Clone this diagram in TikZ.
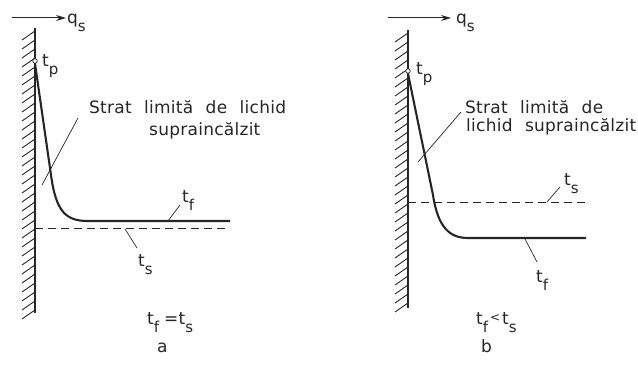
\documentclass[tikz,border=0pt]{standalone}
\usepackage{fontspec}
\setmainfont{DejaVu Sans}[WordSpace=2.2,LetterSpace=1.5]
\usetikzlibrary{arrows.meta}
\newcommand{\lowsub}[1]{\raisebox{-0.45em}{\fontsize{15}{15}\selectfont #1}}
\begin{document}
\begin{tikzpicture}[x=1pt,y=-1pt,
  ink/.style={draw=black!85},
  wallline/.style={ink,line width=1.5pt},
  hatchline/.style={ink,line width=0.9pt},
  profile/.style={ink,line width=2.1pt,line join=round},
  satline/.style={ink,line width=0.8pt,dash pattern=on 8pt off 5pt},
  leader/.style={ink,line width=0.7pt},
  flux/.style={ink,line width=1pt,-{Stealth[length=10pt,width=6pt]}},
  lbl/.style={inner sep=0pt,anchor=base west,text=black!85,font=\fontsize{17}{20}\selectfont},
  tdot/.style={circle,draw=black!85,fill=white,line width=0.7pt,inner sep=0pt,minimum size=4.5pt}]
\useasboundingbox (0,0) rectangle (638,371);

% ---------- panel a ----------
\coordinate (wa1) at (35,28);
\coordinate (wa2) at (35,313);
\draw[wallline] (wa1) -- (wa2);
\foreach \y in {31,40,...,310} \draw[hatchline] (35,\y) -- ++(-13,9);
\coordinate (qa0) at (12,18);
\coordinate (qa1) at (66,18);
\draw[flux] (qa0) -- (qa1);
\node[lbl] (qa) at (67,24) {q\lowsub{s}};
\coordinate (ska) at (35,228);
\coordinate (ska2) at (230,228);
\draw[satline] (ska) -- (ska2);
\node[tdot] (pa) at (35,61) {};
\coordinate (ba) at (51,175);
\coordinate (fa1) at (88,221);
\coordinate (fa2) at (230,221);
\draw[profile] (pa.south) -- (ba) .. controls (56,212) and (66,221) .. (fa1) -- (fa2);
\node[lbl] (tpla) at (42,67) {t\lowsub{p}};
\node[lbl] (sa1) at (89,114) {Strat limită de lichid};
\node[lbl] (sa2) at (149,136) {supraincălzit};
\coordinate (la0) at (78,118);
\coordinate (la1) at (42,185);
\draw[leader] (la0) -- (la1);
\node[lbl] (tfa) at (182,203) {t\lowsub{f}};
\coordinate (lfa0) at (168,221);
\coordinate (lfa1) at (180,205);
\draw[leader] (lfa0) -- (lfa1);
\node[lbl] (tsa) at (138,267) {t\lowsub{s}};
\coordinate (lsa0) at (125,229);
\coordinate (lsa1) at (137,248);
\draw[leader] (lsa0) -- (lsa1);
\node[lbl] (eqa) at (147,325) {t\lowsub{f}\hspace{5pt}=t\lowsub{s}};
\node[lbl] (capa) at (157,353) {a};

% ---------- panel b ----------
\coordinate (wb1) at (408,30);
\coordinate (wb2) at (408,308);
\draw[wallline] (wb1) -- (wb2);
\foreach \y in {33,42,...,303} \draw[hatchline] (408,\y) -- ++(-13,9);
\coordinate (qb0) at (388,18);
\coordinate (qb1) at (451,18);
\draw[flux] (qb0) -- (qb1);
\node[lbl] (qb) at (456,24) {q\lowsub{s}};
\coordinate (skb) at (408,202);
\coordinate (skb2) at (586,202);
\draw[satline] (skb) -- (skb2);
\node[tdot] (pb) at (408,71) {};
\coordinate (bb) at (433,195);
\coordinate (fb1) at (468,238);
\coordinate (fb2) at (586,238);
\draw[profile] (pb.south) -- (bb) .. controls (438,228) and (450,238) .. (fb1) -- (fb2);
\node[lbl] (tplb) at (416,75) {t\lowsub{p}};
\node[lbl] (sb1) at (465,114) {Strat limită de};
\node[lbl] (sb2) at (466,132) {lichid supraincălzit};
\coordinate (lb0) at (461,112);
\coordinate (lb1) at (418,162);
\draw[leader] (lb0) -- (lb1);
\node[lbl] (tsb) at (564,186) {t\lowsub{s}};
\coordinate (lsb0) at (547,202);
\coordinate (lsb1) at (560,187);
\draw[leader] (lsb0) -- (lsb1);
\node[lbl] (tfb) at (536,283) {t\lowsub{f}};
\coordinate (lfb0) at (525,239);
\coordinate (lfb1) at (537,262);
\draw[leader] (lfb0) -- (lfb1);
\node[lbl] (eqb) at (476,325) {t\lowsub{f}\hspace{2pt}{\fontsize{12}{12}\selectfont\raisebox{0.3em}{<}}\hspace{2pt}t\lowsub{s}};
\node[lbl] (capb) at (481,353) {b};
\end{tikzpicture}
\end{document}
